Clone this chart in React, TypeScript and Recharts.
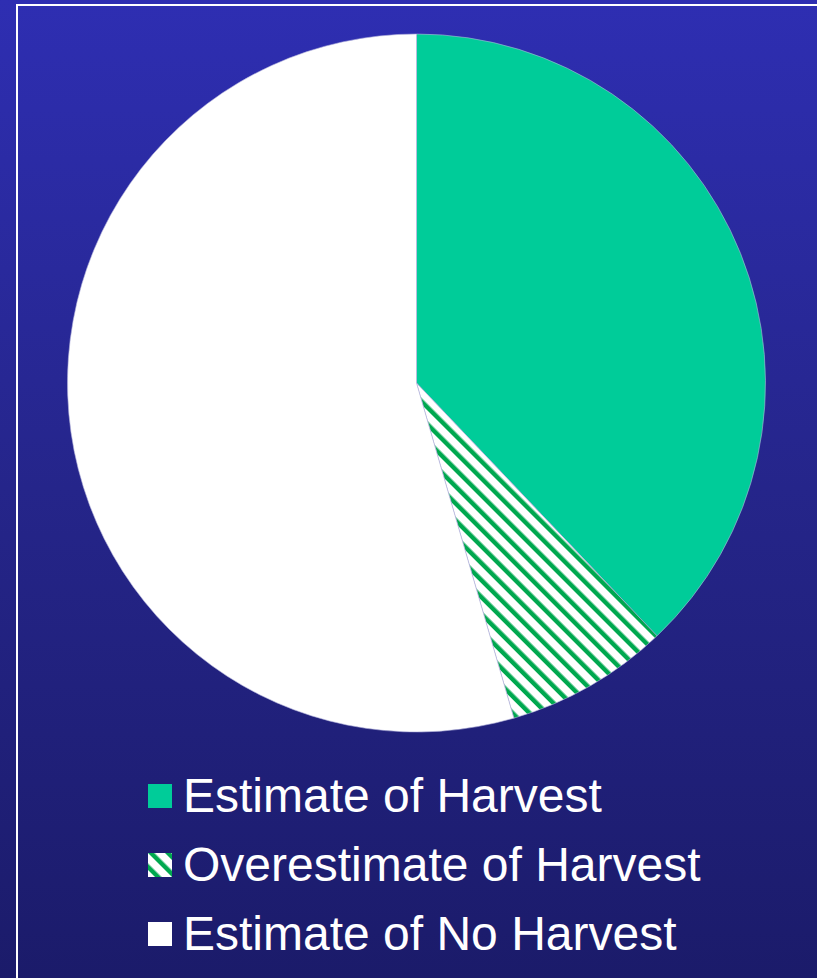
import React from "react";
import { Cell, Legend, Pie, PieChart } from "recharts";

const categories = ["Estimate of Harvest", "Overestimate of Harvest", "Estimate of No Harvest"];
const shares = [37.9, 7.6, 54.5];
const fills = ["#00cc99", "url(#overStripes)", "#ffffff"];

const pieData = categories.map((name, i) => ({ name, value: shares[i] }));

function HarvestLegend() {
  return (
    <div style={{ fontFamily: "'Liberation Sans', Arial, sans-serif", fontSize: 48, color: "#fff" }}>
      {categories.map((name, i) => (
        <div key={name} style={{ display: "flex", alignItems: "center", height: 69, lineHeight: "69px" }}>
          <svg width={24} height={24} style={{ marginRight: 11, flex: "none" }}>
            <defs>
              <pattern
                id={`legendStripes${i}`}
                width={12}
                height={12}
                patternUnits="userSpaceOnUse"
                patternTransform="rotate(-45)"
              >
                <rect width={12} height={12} fill="#ffffff" />
                <rect width={4.5} height={12} fill="#00a84f" />
              </pattern>
            </defs>
            <rect width={24} height={24} fill={i === 1 ? `url(#legendStripes${i})` : fills[i]} />
          </svg>
          <span style={{ whiteSpace: "nowrap" }}>{name}</span>
        </div>
      ))}
    </div>
  );
}

export default function App() {
  return (
    <div
      style={{
        position: "absolute",
        left: 0,
        top: 0,
        width: 817,
        height: 978,
        overflow: "hidden",
        background: "linear-gradient(to bottom, #2e2eb2 0%, #25258a 50%, #1b1b6a 100%)",
      }}
    >
      <div
        style={{
          position: "absolute",
          left: 16,
          top: 4,
          width: 840,
          height: 1000,
          border: "2px solid #ffffff",
        }}
      />
      <div style={{ position: "absolute", left: 0, top: 0 }}>
        <PieChart width={817} height={978} margin={{ top: 0, right: 0, bottom: 0, left: 0 }}>
          <defs>
            <pattern
              id="overStripes"
              width={12}
              height={12}
              patternUnits="userSpaceOnUse"
              patternTransform="rotate(-45)"
            >
              <rect width={12} height={12} fill="#ffffff" />
              <rect width={4.5} height={12} fill="#00a84f" />
            </pattern>
          </defs>
          <Pie
            data={pieData}
            dataKey="value"
            nameKey="name"
            cx={416.5}
            cy={383}
            innerRadius={0}
            outerRadius={349}
            startAngle={90}
            endAngle={-270}
            stroke="#b4b4dc"
            strokeWidth={0.6}
            isAnimationActive={false}
          >
            {pieData.map((entry, index) => (
              <Cell key={`cell-${index}`} fill={fills[index]} />
            ))}
          </Pie>
          <Legend
            layout="horizontal"
            verticalAlign="bottom"
            align="left"
            content={() => <HarvestLegend />}
            wrapperStyle={{ position: "absolute", left: 148, top: 761, bottom: "auto", width: 620 }}
          />
        </PieChart>
      </div>
    </div>
  );
}
